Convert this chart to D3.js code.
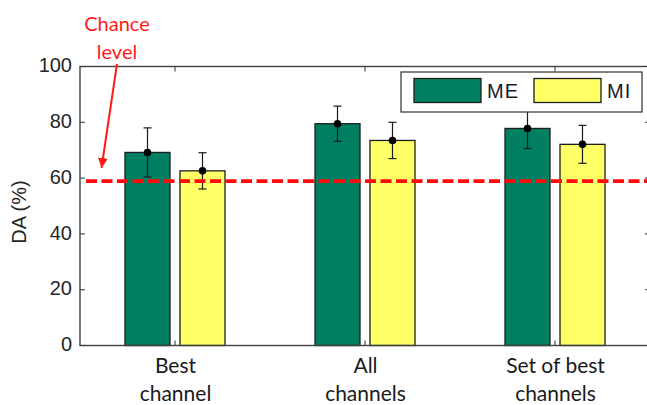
<!DOCTYPE html>
<html>
<head>
<meta charset="utf-8">
<script src="https://cdn.jsdelivr.net/npm/d3@7"></script>
<style>
  html, body { margin: 0; padding: 0; background: #fff; overflow: hidden; }
  svg { display: block; }
</style>
</head>
<body>
<svg id="chart" width="647" height="405"></svg>
<script>
// Decoding accuracy per channel configuration
const categories = [["Best", "channel"], ["All", "channels"], ["Set of best", "channels"]];
const seriesNames = ["ME", "MI"];
const meanME = [69.2, 79.5, 77.8];
const errME = [8.8, 6.3, 7.2];
const meanMI = [62.6, 73.5, 72.1];
const errMI = [6.5, 6.5, 6.8];
const chanceLevel = 58.9;
const yTicks = [0, 20, 40, 60, 80, 100];
const seriesColors = ["#007f63", "#ffff66"];

const svg = d3.select("#chart");
const plotLeft = 80, plotRight = 650, plotTop = 66.5, plotBottom = 345.5;

const x = d3.scaleLinear().domain([0.5, 3.5]).range([plotLeft, plotRight]);
const y = d3.scaleLinear().domain([0, 100]).range([plotBottom, plotTop]);
const inner = d3.scaleBand().domain(seriesNames).range([-50, 50]).paddingInner(10 / 55);

const rows = categories.map((c, i) => ({
  pos: i + 1,
  values: [
    { key: "ME", mean: meanME[i], err: errME[i] },
    { key: "MI", mean: meanMI[i], err: errMI[i] }
  ]
}));

const axisColor = "#404040";
const textColor = "#262626";
const tickFont = "'Liberation Sans', Arial, sans-serif";
const catFont = "Lato, 'Open Sans', sans-serif";

// bars
const groups = svg.append("g").selectAll("g").data(rows).join("g")
  .attr("transform", d => `translate(${x(d.pos)},0)`);

groups.selectAll("rect").data(d => d.values).join("rect")
  .attr("x", d => inner(d.key))
  .attr("width", inner.bandwidth())
  .attr("y", d => y(d.mean))
  .attr("height", d => y(0) - y(d.mean))
  .attr("fill", (d, i) => seriesColors[i])
  .attr("stroke", "#1e1e1e")
  .attr("stroke-width", 1.3);

// error bars with mean markers
const eb = groups.selectAll("g.err").data(d => d.values).join("g").attr("class", "err")
  .attr("transform", d => `translate(${inner(d.key) + inner.bandwidth() / 2},0)`);
eb.append("line")
  .attr("y1", d => y(d.mean + d.err)).attr("y2", d => y(d.mean - d.err))
  .attr("stroke", "#1a1a1a").attr("stroke-width", 1.2);
eb.append("line")
  .attr("x1", -4).attr("x2", 4)
  .attr("y1", d => y(d.mean + d.err)).attr("y2", d => y(d.mean + d.err))
  .attr("stroke", "#1a1a1a").attr("stroke-width", 1.2);
eb.append("line")
  .attr("x1", -4).attr("x2", 4)
  .attr("y1", d => y(d.mean - d.err)).attr("y2", d => y(d.mean - d.err))
  .attr("stroke", "#1a1a1a").attr("stroke-width", 1.2);
eb.append("circle")
  .attr("cy", d => y(d.mean)).attr("r", 3.8).attr("fill", "#000");

// chance level line
svg.append("line")
  .attr("x1", plotLeft + 6).attr("x2", plotRight)
  .attr("y1", y(chanceLevel)).attr("y2", y(chanceLevel))
  .attr("stroke", "#ff0a0a").attr("stroke-width", 3.6)
  .attr("stroke-dasharray", "11,4.5");

// axes box
const axisG = svg.append("g");
const yLeft = d3.axisLeft(y).tickValues(yTicks).tickSize(0).tickPadding(8);
const gL = axisG.append("g").attr("transform", `translate(${plotLeft},0)`).call(yLeft);
gL.select(".domain").remove();
gL.selectAll("text").attr("font-family", tickFont).attr("font-size", 20)
  .attr("fill", textColor).attr("dy", "0.26em");

// inward tick marks on all four sides
yTicks.forEach(v => {
  axisG.append("line").attr("x1", plotLeft).attr("x2", plotLeft + 5).attr("y1", y(v)).attr("y2", y(v))
    .attr("stroke", axisColor).attr("stroke-width", 1.1);
  axisG.append("line").attr("x1", plotRight).attr("x2", plotRight - 5).attr("y1", y(v)).attr("y2", y(v))
    .attr("stroke", axisColor).attr("stroke-width", 1.1);
});
rows.forEach(r => {
  axisG.append("line").attr("x1", x(r.pos)).attr("x2", x(r.pos)).attr("y1", plotBottom).attr("y2", plotBottom - 5)
    .attr("stroke", axisColor).attr("stroke-width", 1.1);
  axisG.append("line").attr("x1", x(r.pos)).attr("x2", x(r.pos)).attr("y1", plotTop).attr("y2", plotTop + 5)
    .attr("stroke", axisColor).attr("stroke-width", 1.1);
});
axisG.append("rect").attr("x", plotLeft).attr("y", plotTop)
  .attr("width", plotRight - plotLeft).attr("height", plotBottom - plotTop)
  .attr("fill", "none").attr("stroke", axisColor).attr("stroke-width", 1.4);

// category labels
const xAxis = d3.axisBottom(x).tickValues(rows.map(r => r.pos)).tickSize(0).tickFormat("");
const gB = svg.append("g").attr("transform", `translate(0,${plotBottom})`).call(xAxis);
gB.select(".domain").remove();
gB.selectAll(".tick").each(function(d, i) {
  const t = d3.select(this).append("text")
    .attr("font-family", catFont).attr("font-size", 21)
    .attr("fill", "#1a1a1a").attr("text-anchor", "middle");
  categories[i].forEach((line, k) => {
    t.append("tspan").attr("x", 0).attr("y", 27 + k * 28).text(line);
  });
});

// y-axis title
svg.append("text")
  .attr("transform", `translate(26,${212}) rotate(-90)`)
  .attr("text-anchor", "middle")
  .attr("font-family", tickFont).attr("font-size", 20).attr("fill", textColor)
  .text("DA (%)");

// legend
const lg = svg.append("g").attr("transform", "translate(401,72)");
lg.append("rect").attr("width", 241).attr("height", 40)
  .attr("fill", "#fff").attr("stroke", axisColor).attr("stroke-width", 1.3);
const items = lg.selectAll("g").data(seriesNames).join("g")
  .attr("transform", (d, i) => `translate(${13 + i * 120},6.5)`);
items.append("rect").attr("width", 67).attr("height", 24)
  .attr("fill", (d, i) => seriesColors[i]).attr("stroke", "#1e1e1e").attr("stroke-width", 1.3);
items.append("text").attr("x", 73).attr("y", 19.5)
  .attr("font-family", tickFont).attr("font-size", 20).attr("letter-spacing", 1)
  .attr("fill", "#1a1a2e").text(d => d);

// annotation
const note = svg.append("text").attr("font-family", catFont).attr("font-size", 20)
  .attr("fill", "#ff1a1a").attr("text-anchor", "middle");
note.append("tspan").attr("x", 117).attr("y", 31).text("Chance");
note.append("tspan").attr("x", 117).attr("y", 59).text("level");

svg.append("defs").append("marker")
  .attr("id", "head").attr("viewBox", "0 0 10 10").attr("refX", 10).attr("refY", 5)
  .attr("markerWidth", 5).attr("markerHeight", 5).attr("markerUnits", "strokeWidth")
  .attr("orient", "auto")
  .append("path").attr("d", "M0,0 L10,5 L0,10 z").attr("fill", "#ff1a1a");
svg.append("line")
  .attr("x1", 117).attr("y1", 64).attr("x2", 101.5).attr("y2", 168)
  .attr("stroke", "#ff1a1a").attr("stroke-width", 2)
  .attr("marker-end", "url(#head)");
</script>
</body>
</html>
